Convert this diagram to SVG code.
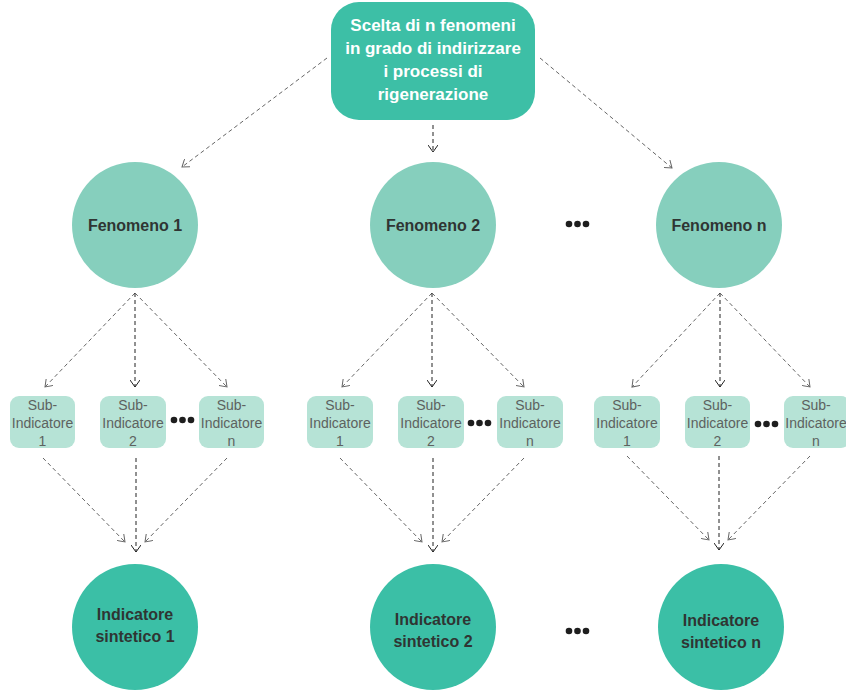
<svg xmlns="http://www.w3.org/2000/svg" width="846" height="693" viewBox="0 0 846 693">
<defs>
<style>
.top{fill:#3dbfa6}
.fen{fill:#86cfbd}
.sub{fill:#b6e3d6}
.ind{fill:#3bbfa6}
.tw{font-family:"Liberation Sans",Arial,sans-serif;font-weight:bold;font-size:17px;fill:#ffffff;text-anchor:middle}
.tf{font-family:"Liberation Sans",Arial,sans-serif;font-weight:bold;font-size:16px;fill:#2f3533;text-anchor:middle}
.ts{font-family:"Liberation Sans",Arial,sans-serif;font-size:14px;fill:#5d625f;text-anchor:middle}
.c{fill:none;stroke:#666;stroke-width:1;stroke-dasharray:4 3}
.cd{fill:none;stroke:#222;stroke-width:1;stroke-dasharray:4 3}
.dot{fill:#1e1e1e}
</style>
<marker id="ag" viewBox="0 0 8 10" refX="7" refY="5" markerWidth="8" markerHeight="10" markerUnits="userSpaceOnUse" orient="auto">
<path d="M0,0 L7,5 L0,10" fill="none" stroke="#666" stroke-width="1"/>
</marker>
<marker id="ad" viewBox="0 0 8 10" refX="7" refY="5" markerWidth="8" markerHeight="10" markerUnits="userSpaceOnUse" orient="auto">
<path d="M0,0 L7,5 L0,10" fill="none" stroke="#222" stroke-width="1"/>
</marker>
</defs>
<rect width="846" height="693" fill="#ffffff"/>

<g id="connectors">
<line class="c" x1="327" y1="58" x2="182" y2="167" marker-end="url(#ag)"/>
<line class="cd" x1="433" y1="125" x2="433" y2="152" marker-end="url(#ad)"/>
<line class="c" x1="540" y1="58" x2="672" y2="168" marker-end="url(#ag)"/>

<line class="c" x1="135" y1="293" x2="45" y2="387" marker-end="url(#ag)"/>
<line class="cd" x1="135" y1="293" x2="135" y2="387" marker-end="url(#ad)"/>
<line class="c" x1="135" y1="293" x2="227" y2="387" marker-end="url(#ag)"/>
<line class="c" x1="43" y1="458" x2="125" y2="542" marker-end="url(#ag)"/>
<line class="cd" x1="136" y1="458" x2="136" y2="552" marker-end="url(#ad)"/>
<line class="c" x1="227" y1="458" x2="145" y2="542" marker-end="url(#ag)"/>

<line class="c" x1="432" y1="293" x2="342" y2="387" marker-end="url(#ag)"/>
<line class="cd" x1="432" y1="293" x2="432" y2="387" marker-end="url(#ad)"/>
<line class="c" x1="432" y1="293" x2="524" y2="387" marker-end="url(#ag)"/>
<line class="c" x1="340" y1="458" x2="422" y2="542" marker-end="url(#ag)"/>
<line class="cd" x1="433" y1="458" x2="433" y2="552" marker-end="url(#ad)"/>
<line class="c" x1="524" y1="458" x2="442" y2="542" marker-end="url(#ag)"/>

<line class="c" x1="720" y1="293" x2="632" y2="387" marker-end="url(#ag)"/>
<line class="cd" x1="720" y1="293" x2="720" y2="387" marker-end="url(#ad)"/>
<line class="c" x1="720" y1="293" x2="810" y2="387" marker-end="url(#ag)"/>
<line class="c" x1="627" y1="456" x2="709" y2="540" marker-end="url(#ag)"/>
<line class="cd" x1="719" y1="456" x2="719" y2="550" marker-end="url(#ad)"/>
<line class="c" x1="810" y1="456" x2="728" y2="540" marker-end="url(#ag)"/>
</g>

<g id="top">
<rect class="top" x="331" y="2" width="204" height="118" rx="28"/>
<text class="tw" x="433" y="31">Scelta di n fenomeni</text>
<text class="tw" x="433" y="54">in grado di indirizzare</text>
<text class="tw" x="433" y="77">i processi di</text>
<text class="tw" x="433" y="100">rigenerazione</text>
</g>

<g id="fenomeno1"><circle class="fen" cx="135" cy="225" r="63"/><text class="tf" x="135" y="231">Fenomeno 1</text></g>
<g id="fenomeno2"><circle class="fen" cx="433" cy="225" r="63"/><text class="tf" x="433" y="231">Fenomeno 2</text></g>
<g id="fenomenon"><circle class="fen" cx="719" cy="225" r="63"/><text class="tf" x="719" y="231">Fenomeno n</text></g>
<g id="dots-top"><circle class="dot" cx="569" cy="224" r="3.3"/><circle class="dot" cx="577.5" cy="224" r="3.3"/><circle class="dot" cx="586" cy="224" r="3.3"/></g>

<g id="sub1-1"><rect class="sub" x="10" y="396" width="65" height="52" rx="9"/><text class="ts" x="42.5" y="410">Sub-</text><text class="ts" x="42.5" y="428">Indicatore</text><text class="ts" x="42.5" y="446">1</text></g>
<g id="sub1-2"><rect class="sub" x="100" y="396" width="66" height="52" rx="9"/><text class="ts" x="133" y="410">Sub-</text><text class="ts" x="133" y="428">Indicatore</text><text class="ts" x="133" y="446">2</text></g>
<g id="sub1-n"><rect class="sub" x="199" y="396" width="65" height="52" rx="9"/><text class="ts" x="231.5" y="410">Sub-</text><text class="ts" x="231.5" y="428">Indicatore</text><text class="ts" x="231.5" y="446">n</text></g>
<g id="dots1"><circle class="dot" cx="174" cy="420" r="3.3"/><circle class="dot" cx="182.5" cy="420" r="3.3"/><circle class="dot" cx="191" cy="420" r="3.3"/></g>

<g id="sub2-1"><rect class="sub" x="307" y="396" width="66" height="52" rx="9"/><text class="ts" x="340" y="410">Sub-</text><text class="ts" x="340" y="428">Indicatore</text><text class="ts" x="340" y="446">1</text></g>
<g id="sub2-2"><rect class="sub" x="398" y="396" width="66" height="52" rx="9"/><text class="ts" x="431" y="410">Sub-</text><text class="ts" x="431" y="428">Indicatore</text><text class="ts" x="431" y="446">2</text></g>
<g id="sub2-n"><rect class="sub" x="497" y="396" width="66" height="52" rx="9"/><text class="ts" x="530" y="410">Sub-</text><text class="ts" x="530" y="428">Indicatore</text><text class="ts" x="530" y="446">n</text></g>
<g id="dots2"><circle class="dot" cx="471" cy="423" r="3.3"/><circle class="dot" cx="479.5" cy="423" r="3.3"/><circle class="dot" cx="488" cy="423" r="3.3"/></g>

<g id="sub3-1"><rect class="sub" x="594" y="396" width="66" height="52" rx="9"/><text class="ts" x="627" y="410">Sub-</text><text class="ts" x="627" y="428">Indicatore</text><text class="ts" x="627" y="446">1</text></g>
<g id="sub3-2"><rect class="sub" x="685" y="396" width="65" height="52" rx="9"/><text class="ts" x="717.5" y="410">Sub-</text><text class="ts" x="717.5" y="428">Indicatore</text><text class="ts" x="717.5" y="446">2</text></g>
<g id="sub3-n"><rect class="sub" x="784" y="396" width="66" height="52" rx="9"/><text class="ts" x="816" y="410">Sub-</text><text class="ts" x="816" y="428">Indicatore</text><text class="ts" x="816" y="446">n</text></g>
<g id="dots3"><circle class="dot" cx="758" cy="424" r="3.3"/><circle class="dot" cx="766.5" cy="424" r="3.3"/><circle class="dot" cx="775" cy="424" r="3.3"/></g>

<g id="indicatore1"><circle class="ind" cx="135" cy="627" r="63"/><text class="tf" x="135" y="620">Indicatore</text><text class="tf" x="135" y="642">sintetico 1</text></g>
<g id="indicatore2"><circle class="ind" cx="433" cy="627" r="63"/><text class="tf" x="433" y="625">Indicatore</text><text class="tf" x="433" y="647">sintetico 2</text></g>
<g id="indicatoren"><circle class="ind" cx="721" cy="627" r="63"/><text class="tf" x="721" y="626">Indicatore</text><text class="tf" x="721" y="648">sintetico n</text></g>
<g id="dots-bottom"><circle class="dot" cx="569" cy="631" r="3.3"/><circle class="dot" cx="577.5" cy="631" r="3.3"/><circle class="dot" cx="586" cy="631" r="3.3"/></g>
</svg>
